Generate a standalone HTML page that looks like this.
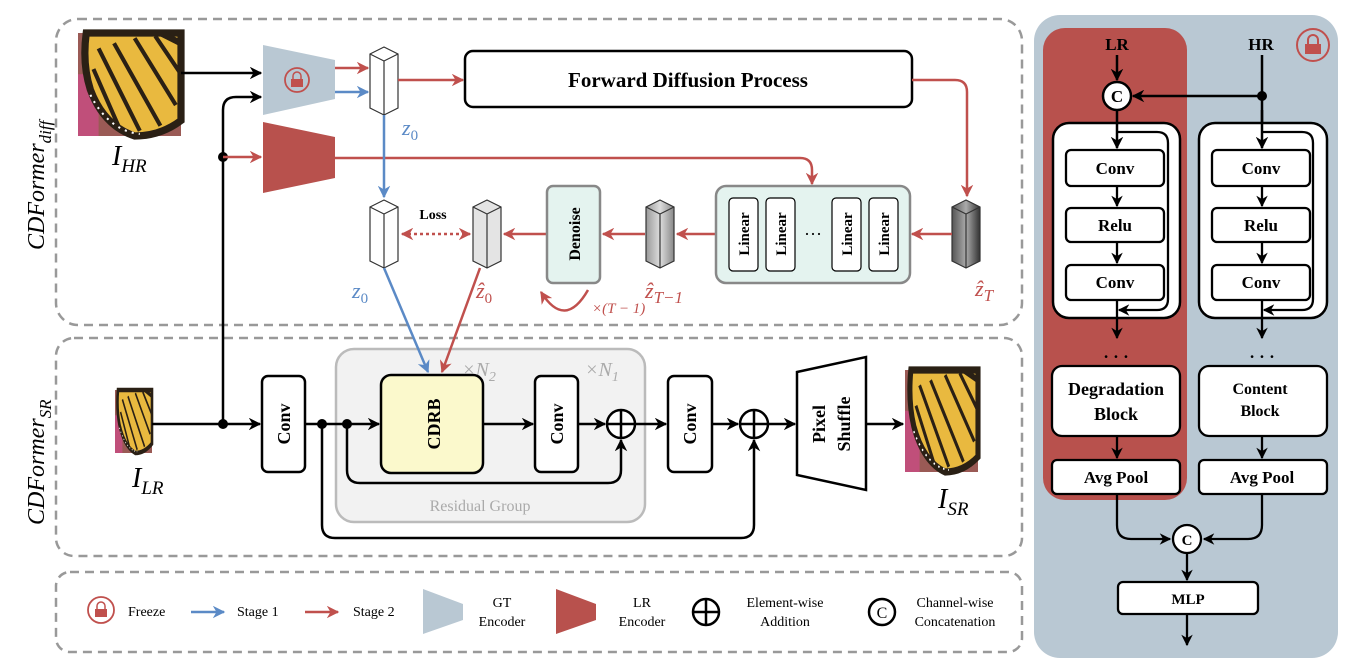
<!DOCTYPE html>
<html><head><meta charset="utf-8"><style>
body{margin:0;background:#fff}
svg{display:block}
text{font-family:"Liberation Serif",serif}
.b{font-weight:bold}
</style></head><body>
<svg width="1350" height="669" viewBox="0 0 1350 669" xmlns="http://www.w3.org/2000/svg">
<defs>
<marker id="ak" viewBox="0 0 10 10" refX="9" refY="5" markerWidth="5" markerHeight="5" orient="auto-start-reverse"><path d="M0,0 L10,5 L0,10 L3,5z" fill="#000"/></marker>
<marker id="ar" viewBox="0 0 10 10" refX="9" refY="5" markerWidth="5" markerHeight="5" orient="auto-start-reverse"><path d="M0,0 L10,5 L0,10 L3,5z" fill="#c0504d"/></marker>
<marker id="ab" viewBox="0 0 10 10" refX="9" refY="5" markerWidth="5" markerHeight="5" orient="auto-start-reverse"><path d="M0,0 L10,5 L0,10 L3,5z" fill="#5b8ac6"/></marker>
<linearGradient id="dk" x1="0" x2="1"><stop offset="0" stop-color="#555"/><stop offset=".5" stop-color="#aaa"/><stop offset="1" stop-color="#333"/></linearGradient>
<linearGradient id="md" x1="0" x2="1"><stop offset="0" stop-color="#999"/><stop offset=".5" stop-color="#ddd"/><stop offset="1" stop-color="#888"/></linearGradient>
<g id="bf">
<rect x="0" y="0" width="100" height="100" fill="#9a5a55"/>
<rect x="0" y="40" width="20" height="60" fill="#c04f7a"/>
<path d="M8,0 L100,0 L100,85 Q80,100 55,100 Q25,90 12,55 Q4,30 8,0z" fill="#e9b93f" stroke="#2a2015" stroke-width="7"/>
<path d="M20,15 L60,95 M35,10 L80,90 M55,5 L95,70 M15,35 L40,92 M75,3 L100,40" stroke="#2a2015" stroke-width="4" fill="none"/>
<path d="M12,60 Q30,95 60,98" stroke="#fff" stroke-width="2" stroke-dasharray="2,5" fill="none"/>
<path d="M100,10 L80,0" stroke="#2a2015" stroke-width="6"/>
</g>
</defs>

<rect x="56" y="19" width="966" height="306" rx="22" fill="none" stroke="#999" stroke-width="2.5" stroke-dasharray="9,6"/>
<rect x="56" y="338" width="966" height="218" rx="18" fill="none" stroke="#999" stroke-width="2.5" stroke-dasharray="9,6"/>
<rect x="56" y="572" width="966" height="80" rx="14" fill="none" stroke="#999" stroke-width="2.5" stroke-dasharray="9,6"/>

<text transform="translate(44,250) rotate(-90)" font-size="24" font-style="italic">CDFormer<tspan font-size="17" dy="7">diff</tspan></text>
<text transform="translate(44,525) rotate(-90)" font-size="24" font-style="italic">CDFormer<tspan font-size="17" dy="7">SR</tspan></text>

<g transform="translate(78,33) scale(1.03,1.03)"><use href="#bf"/></g>
<text x="112" y="165" font-size="28" font-style="italic">I<tspan font-size="19" dy="7">HR</tspan></text>
<line x1="181" y1="73" x2="261" y2="73" stroke="#000" stroke-width="2.5" marker-end="url(#ak)"/>
<path d="M223,424 L223,110 Q223,97 236,97 L261,97" fill="none" stroke="#000" stroke-width="2.5" marker-end="url(#ak)"/>
<circle cx="223" cy="157" r="5" fill="#000"/>
<line x1="223" y1="157" x2="261" y2="157" stroke="#c0504d" stroke-width="2.5" marker-end="url(#ar)"/>

<path d="M263,45 L335,60 L335,99 L263,115z" fill="#b9c8d3"/>
<circle cx="297" cy="80" r="12" fill="none" stroke="#c0504d" stroke-width="1.8"/>
<rect x="291" y="79" width="12" height="8" fill="#c0504d"/><path d="M293,79 v-3 a4,4 0 0 1 8,0 v3" fill="none" stroke="#c0504d" stroke-width="1.5"/>
<path d="M263,122 L335,137 L335,178 L263,193z" fill="#b8514d"/>
<line x1="335" y1="68" x2="368" y2="68" stroke="#c0504d" stroke-width="2.5" marker-end="url(#ar)"/>
<line x1="335" y1="92" x2="368" y2="92" stroke="#5b8ac6" stroke-width="2.5" marker-end="url(#ab)"/>
<path d="M335,158 L800,158 Q812,158 812,170 L812,184" fill="none" stroke="#c0504d" stroke-width="2.5" marker-end="url(#ar)"/>

<g stroke="#333" stroke-width="1.2">
<path d="M370,54 L384,47 L398,54 L398,108 L384,115 L370,108z" fill="#fff"/>
<path d="M370,54 L384,61 L398,54 M384,61 L384,115" fill="none"/>
</g>
<line x1="398" y1="80" x2="463" y2="80" stroke="#c0504d" stroke-width="2.5" marker-end="url(#ar)"/>
<text x="402" y="135" font-size="22" font-style="italic" fill="#5b8ac6">z<tspan font-size="15" dy="5" font-style="normal">0</tspan></text>
<rect x="465" y="51" width="447" height="56" rx="8" fill="#fff" stroke="#000" stroke-width="2.5"/>
<text x="688" y="87" font-size="21" class="b" text-anchor="middle">Forward Diffusion Process</text>
<path d="M912,80 L955,80 Q967,80 967,92 L967,196" fill="none" stroke="#c0504d" stroke-width="2.5" marker-end="url(#ar)"/>
<line x1="384" y1="115" x2="384" y2="197" stroke="#5b8ac6" stroke-width="2.5" marker-end="url(#ab)"/>

<g stroke="#333" stroke-width="1.2">
<path d="M370,207 L384,200 L398,207 L398,261 L384,268 L370,261z" fill="#fff"/>
<path d="M370,207 L384,214 L398,207 M384,214 L384,268" fill="none"/>
<path d="M473,207 L487,200 L501,207 L501,261 L487,268 L473,261z" fill="#e4e4e4"/>
<path d="M473,207 L487,214 L501,207 M487,214 L487,268" fill="none"/>
<path d="M646,207 L660,200 L674,207 L674,261 L660,268 L646,261z" fill="url(#md)"/>
<path d="M646,207 L660,214 L674,207 M660,214 L660,268" fill="none"/>
<path d="M952,207 L966,200 L980,207 L980,261 L966,268 L952,261z" fill="url(#dk)"/>
<path d="M952,207 L966,214 L980,207 M966,214 L966,268" fill="none"/>
</g>
<line x1="402" y1="234" x2="470" y2="234" stroke="#c0504d" stroke-width="2.5" stroke-dasharray="3,3" marker-start="url(#ar)" marker-end="url(#ar)"/>
<text x="433" y="219" font-size="14" class="b" text-anchor="middle">Loss</text>
<line x1="547" y1="234" x2="504" y2="234" stroke="#c0504d" stroke-width="2.5" marker-end="url(#ar)"/>
<line x1="645" y1="234" x2="603" y2="234" stroke="#c0504d" stroke-width="2.5" marker-end="url(#ar)"/>
<line x1="716" y1="234" x2="677" y2="234" stroke="#c0504d" stroke-width="2.5" marker-end="url(#ar)"/>
<line x1="952" y1="234" x2="912" y2="234" stroke="#c0504d" stroke-width="2.5" marker-end="url(#ar)"/>
<rect x="547" y="186" width="53" height="97" rx="6" fill="#e4f3ef" stroke="#888" stroke-width="2.5"/>
<text transform="translate(580,234) rotate(-90)" font-size="16" class="b" text-anchor="middle">Denoise</text>
<rect x="716" y="186" width="194" height="97" rx="10" fill="#e4f3ef" stroke="#888" stroke-width="2.5"/>
<g font-size="15" class="b" text-anchor="middle">
<rect x="729" y="198" width="29" height="73" rx="4" fill="#fff" stroke="#000" stroke-width="1.2"/><text transform="translate(749,234) rotate(-90)">Linear</text>
<rect x="766" y="198" width="29" height="73" rx="4" fill="#fff" stroke="#000" stroke-width="1.2"/><text transform="translate(786,234) rotate(-90)">Linear</text>
<rect x="832" y="198" width="29" height="73" rx="4" fill="#fff" stroke="#000" stroke-width="1.2"/><text transform="translate(852,234) rotate(-90)">Linear</text>
<rect x="869" y="198" width="29" height="73" rx="4" fill="#fff" stroke="#000" stroke-width="1.2"/><text transform="translate(889,234) rotate(-90)">Linear</text>
</g>
<text x="813" y="240" font-size="18" text-anchor="middle">···</text>
<path d="M588,290 Q565,330 541,292" fill="none" stroke="#c0504d" stroke-width="2.5" marker-end="url(#ar)"/>
<text x="592" y="313" font-size="15" fill="#c0504d" font-style="italic">×(T − 1)</text>
<text x="352" y="298" font-size="22" font-style="italic" fill="#5b8ac6">z<tspan font-size="15" dy="5" font-style="normal">0</tspan></text>
<text x="476" y="298" font-size="22" font-style="italic" fill="#c0504d">ẑ<tspan font-size="15" dy="5" font-style="normal">0</tspan></text>
<text x="645" y="298" font-size="22" font-style="italic" fill="#c0504d">ẑ<tspan font-size="17" dy="5">T−1</tspan></text>
<text x="975" y="296" font-size="22" font-style="italic" fill="#c0504d">ẑ<tspan font-size="17" dy="5">T</tspan></text>

<rect x="336" y="349" width="309" height="173" rx="18" fill="#f2f2f2" stroke="#bbb" stroke-width="2.5"/>
<text x="480" y="511" font-size="16" fill="#aaa" text-anchor="middle">Residual Group</text>
<text x="462" y="376" font-size="20" fill="#aaa" font-style="italic">×N<tspan font-size="14" dy="5">2</tspan></text>
<text x="585" y="376" font-size="20" fill="#aaa" font-style="italic">×N<tspan font-size="14" dy="5">1</tspan></text>
<line x1="384" y1="268" x2="428" y2="372" stroke="#5b8ac6" stroke-width="2.5" marker-end="url(#ab)"/>
<line x1="480" y1="268" x2="442" y2="372" stroke="#c0504d" stroke-width="2.5" marker-end="url(#ar)"/>

<g transform="translate(115,390) scale(0.37,0.63)"><use href="#bf"/></g>
<text x="132" y="487" font-size="28" font-style="italic">I<tspan font-size="19" dy="7">LR</tspan></text>
<line x1="152" y1="424" x2="260" y2="424" stroke="#000" stroke-width="2.5" marker-end="url(#ak)"/>
<circle cx="223" cy="424" r="5" fill="#000"/>
<g fill="#fff" stroke="#000" stroke-width="2.5">
<rect x="262" y="376" width="43" height="96" rx="6"/>
<rect x="381" y="375" width="102" height="98" rx="10" fill="#fbf9cc"/>
<rect x="535" y="376" width="43" height="96" rx="6"/>
<rect x="668" y="376" width="44" height="96" rx="6"/>
<path d="M797,372 L866,357 L866,490 L797,475z"/>
</g>
<g font-size="18" class="b" text-anchor="middle">
<text transform="translate(290,424) rotate(-90)">Conv</text>
<text transform="translate(440,424) rotate(-90)">CDRB</text>
<text transform="translate(563,424) rotate(-90)">Conv</text>
<text transform="translate(696,424) rotate(-90)">Conv</text>
<text transform="translate(825,424) rotate(-90)">Pixel</text>
<text transform="translate(850,424) rotate(-90)">Shuffle</text>
</g>
<g stroke="#000" stroke-width="2.5" fill="none">
<line x1="305" y1="424" x2="379" y2="424" marker-end="url(#ak)"/>
<line x1="483" y1="424" x2="533" y2="424" marker-end="url(#ak)"/>
<line x1="578" y1="424" x2="605" y2="424" marker-end="url(#ak)"/>
<line x1="635" y1="424" x2="666" y2="424" marker-end="url(#ak)"/>
<line x1="712" y1="424" x2="738" y2="424" marker-end="url(#ak)"/>
<line x1="768" y1="424" x2="795" y2="424" marker-end="url(#ak)"/>
<line x1="866" y1="424" x2="903" y2="424" marker-end="url(#ak)"/>
<circle cx="621" cy="424" r="14" fill="#fff"/><path d="M607,424 h28 M621,410 v28"/>
<circle cx="754" cy="424" r="14" fill="#fff"/><path d="M740,424 h28 M754,410 v28"/>
<path d="M347,424 L347,470 Q347,483 360,483 L608,483 Q621,483 621,470 L621,440" marker-end="url(#ak)"/>
<path d="M322,424 L322,525 Q322,538 335,538 L741,538 Q754,538 754,525 L754,440" marker-end="url(#ak)"/>
</g>
<circle cx="322" cy="424" r="5" fill="#000"/><circle cx="347" cy="424" r="5" fill="#000"/>
<g transform="translate(905,370) scale(0.73,1.02)"><use href="#bf"/></g>
<text x="938" y="508" font-size="28" font-style="italic">I<tspan font-size="19" dy="7">SR</tspan></text>

<circle cx="101" cy="610" r="13" fill="none" stroke="#c0504d" stroke-width="1.8"/>
<rect x="95" y="609" width="12" height="8" fill="#c0504d"/><path d="M97,609 v-3 a4,4 0 0 1 8,0 v3" fill="none" stroke="#c0504d" stroke-width="1.5"/>
<g font-size="14">
<text x="128" y="616">Freeze</text>
<line x1="191" y1="612" x2="224" y2="612" stroke="#5b8ac6" stroke-width="2.5" marker-end="url(#ab)"/>
<text x="237" y="616">Stage 1</text>
<line x1="305" y1="612" x2="338" y2="612" stroke="#c0504d" stroke-width="2.5" marker-end="url(#ar)"/>
<text x="353" y="616">Stage 2</text>
<path d="M423,589 L463,604 L463,620 L423,634z" fill="#b9c8d3"/>
<text x="502" y="607" text-anchor="middle">GT</text><text x="502" y="626" text-anchor="middle">Encoder</text>
<path d="M556,589 L596,604 L596,620 L556,634z" fill="#b8514d"/>
<text x="642" y="607" text-anchor="middle">LR</text><text x="642" y="626" text-anchor="middle">Encoder</text>
<circle cx="706" cy="612" r="13" fill="#fff" stroke="#000" stroke-width="2.5"/><path d="M693,612 h26 M706,599 v26" stroke="#000" stroke-width="2.5"/>
<text x="785" y="607" text-anchor="middle">Element-wise</text><text x="785" y="626" text-anchor="middle">Addition</text>
<circle cx="882" cy="612" r="13" fill="#fff" stroke="#000" stroke-width="2.5"/><text x="882" y="618" text-anchor="middle" font-size="16">C</text>
<text x="955" y="607" text-anchor="middle">Channel-wise</text><text x="955" y="626" text-anchor="middle">Concatenation</text>
</g>

<rect x="1034" y="15" width="304" height="643" rx="26" fill="#b9c8d3"/>
<rect x="1043" y="28" width="144" height="472" rx="22" fill="#b8514d"/>
<circle cx="1313" cy="45" r="16" fill="none" stroke="#c0504d" stroke-width="2"/>
<rect x="1305" y="44" width="16" height="10" fill="#c0504d"/><path d="M1308,44 v-4 a5,5 0 0 1 10,0 v4" fill="none" stroke="#c0504d" stroke-width="2"/>
<g font-size="17" class="b" text-anchor="middle">
<text x="1117" y="50">LR</text><text x="1261" y="50">HR</text>
</g>
<g stroke="#000" stroke-width="2.5" fill="none">
<line x1="1117" y1="55" x2="1117" y2="80" marker-end="url(#ak)"/>
<line x1="1262" y1="55" x2="1262" y2="150"/>
<line x1="1262" y1="96" x2="1133" y2="96" marker-end="url(#ak)"/>
<circle cx="1117" cy="96" r="14" fill="#fff"/>
<rect x="1053" y="123" width="127" height="195" rx="16" fill="#fff"/>
<rect x="1199" y="123" width="128" height="195" rx="16" fill="#fff"/>
<line x1="1117" y1="110" x2="1117" y2="148" marker-end="url(#ak)"/>
<line x1="1262" y1="110" x2="1262" y2="148" marker-end="url(#ak)"/>
</g>
<circle cx="1262" cy="96" r="5" fill="#000"/>
<text x="1117" y="102" font-size="17" class="b" text-anchor="middle">C</text>
<g stroke="#000" stroke-width="2.3" fill="none">
<path d="M1117,132 L1157,132 Q1168,132 1168,143 L1168,299 Q1168,310 1157,310 L1119,310" marker-end="url(#ak)"/>
<path d="M1262,132 L1302,132 Q1313,132 1313,143 L1313,299 Q1313,310 1302,310 L1264,310" marker-end="url(#ak)"/>
<line x1="1117" y1="186" x2="1117" y2="206" marker-end="url(#ak)"/>
<line x1="1117" y1="242" x2="1117" y2="263" marker-end="url(#ak)"/>
<line x1="1117" y1="300" x2="1117" y2="338" marker-end="url(#ak)"/>
<line x1="1262" y1="186" x2="1262" y2="206" marker-end="url(#ak)"/>
<line x1="1262" y1="242" x2="1262" y2="263" marker-end="url(#ak)"/>
<line x1="1262" y1="300" x2="1262" y2="338" marker-end="url(#ak)"/>
<line x1="1117" y1="436" x2="1117" y2="458" marker-end="url(#ak)"/>
<line x1="1262" y1="436" x2="1262" y2="458" marker-end="url(#ak)"/>
<path d="M1117,494 L1117,525 Q1117,539 1131,539 L1170,539" marker-end="url(#ak)"/>
<path d="M1262,494 L1262,525 Q1262,539 1248,539 L1204,539" marker-end="url(#ak)"/>
<line x1="1187" y1="553" x2="1187" y2="580" marker-end="url(#ak)"/>
<line x1="1187" y1="614" x2="1187" y2="645" marker-end="url(#ak)"/>
</g>
<g fill="#fff" stroke="#000" stroke-width="2.3">
<rect x="1066" y="150" width="98" height="36" rx="5"/>
<rect x="1066" y="208" width="98" height="34" rx="5"/>
<rect x="1066" y="265" width="98" height="35" rx="5"/>
<rect x="1212" y="150" width="98" height="36" rx="5"/>
<rect x="1212" y="208" width="98" height="34" rx="5"/>
<rect x="1212" y="265" width="98" height="35" rx="5"/>
<rect x="1052" y="366" width="128" height="70" rx="10"/>
<rect x="1199" y="366" width="128" height="70" rx="10"/>
<rect x="1052" y="460" width="128" height="34" rx="5"/>
<rect x="1199" y="460" width="128" height="34" rx="5"/>
<circle cx="1187" cy="539" r="14"/>
<rect x="1118" y="582" width="140" height="32" rx="5"/>
</g>
<g font-size="17" class="b" text-anchor="middle">
<text x="1115" y="174">Conv</text><text x="1115" y="231">Relu</text><text x="1115" y="288">Conv</text>
<text x="1261" y="174">Conv</text><text x="1261" y="231">Relu</text><text x="1261" y="288">Conv</text>
<text x="1116" y="395" font-size="18">Degradation</text><text x="1116" y="420" font-size="18">Block</text>
<text x="1260" y="394" font-size="16">Content</text><text x="1260" y="416" font-size="16">Block</text>
<text x="1116" y="483">Avg Pool</text><text x="1262" y="483">Avg Pool</text>
<text x="1187" y="545" font-size="15">C</text>
<text x="1188" y="604" font-size="15">MLP</text>
<text x="1116" y="362">· · ·</text><text x="1262" y="362">· · ·</text>
</g>
</svg>
</body></html>
